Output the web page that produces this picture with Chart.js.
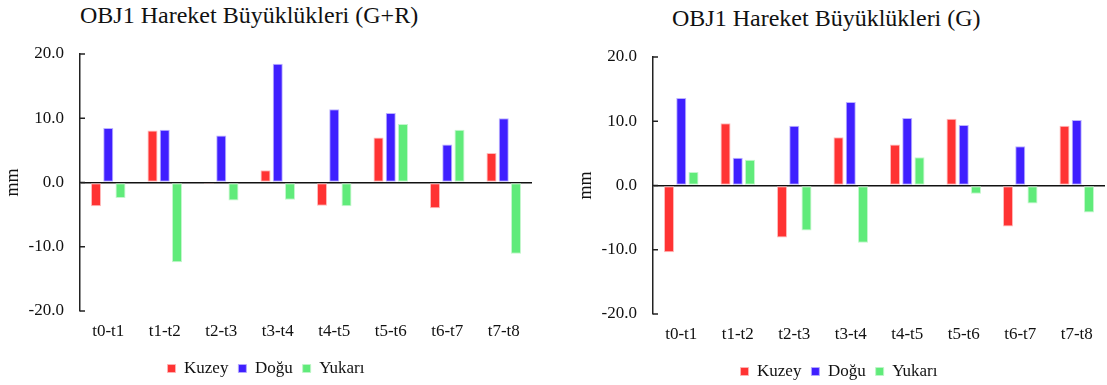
<!DOCTYPE html>
<html>
<head>
<meta charset="utf-8">
<script src="https://cdn.jsdelivr.net/npm/chart.js@4.4.1/dist/chart.umd.min.js"></script>
<style>
  html, body { margin: 0; padding: 0; background: #fff; }
  body { width: 1107px; height: 385px; position: relative; overflow: hidden; }
  .wrap { position: absolute; width: 534px; height: 385px; }
  .title { position: absolute; font-family: "Liberation Serif", serif; font-size: 24px; color: #111; white-space: nowrap; line-height: 1; }
</style>
</head>
<body>
<div class="title" id="t1" style="left:80px; top:3px;">OBJ1 Hareket Büyüklükleri (G+R)</div>
<div class="title" id="t2" style="left:672px; top:6px;">OBJ1 Hareket Büyüklükleri (G)</div>
<div class="wrap" style="left:0px; top:0px;"><canvas id="c1"></canvas></div>
<div class="wrap" style="left:573px; top:3px;"><canvas id="c2"></canvas></div>
<script>
// ---- data ----
const categories = ["t0-t1", "t1-t2", "t2-t3", "t3-t4", "t4-t5", "t5-t6", "t6-t7", "t7-t8"];
const seriesNames = ["Kuzey", "Doğu", "Yukarı"];
const yTicks = [-20, -10, 0, 10, 20];

// Chart 1: G+R
const grKuzey  = [-3.7, 8.1, -0.2, 1.9, -3.6, 7.0, -4.0, 4.6];
const grDogu   = [8.5, 8.2, 7.3, 18.5, 11.4, 10.8, 5.9, 10.0];
const grYukari = [-2.4, -12.4, -2.8, -2.7, -3.7, 9.1, 8.2, -11.1];

// Chart 2: G
const gKuzey  = [-10.4, 9.7, -8.1, 7.5, 6.4, 10.4, -6.4, 9.3];
const gDogu   = [13.6, 4.3, 9.3, 13.0, 10.5, 9.4, 6.1, 10.2];
const gYukari = [2.1, 4.0, -7.0, -8.9, 4.4, -1.3, -2.8, -4.2];

const FONT = "'Liberation Serif', 'Times New Roman', serif";
const fillColors = ["#FF3333", "#3F1FFF", "#60EB7A"];
const edgeColors = ["rgba(255,180,180,0.9)", "rgba(180,170,255,0.9)", "rgba(190,245,200,0.9)"];

// inward tick marks on the y axis, computed from the library's scale
const inwardTicks = {
  id: 'inwardTicks',
  afterDatasetsDraw(chart) {
    const y = chart.scales.y;
    const ctx = chart.ctx;
    const left = chart.chartArea.left;
    ctx.save();
    ctx.strokeStyle = '#222';
    ctx.lineWidth = 1.5;
    yTicks.forEach(v => {
      const py = y.getPixelForValue(v);
      ctx.beginPath();
      ctx.moveTo(left, py);
      ctx.lineTo(left + 5, py);
      ctx.stroke();
    });
    ctx.restore();
  }
};

function makeChart(id, k, d, yk) {
  const series = [k, d, yk];
  return new Chart(document.getElementById(id), {
    type: 'bar',
    data: {
      labels: categories,
      datasets: series.map((vals, i) => ({
        label: seriesNames[i],
        data: vals,
        backgroundColor: fillColors[i],
        borderColor: edgeColors[i],
        borderWidth: 1,
        borderSkipped: false,
        categoryPercentage: 0.65,
        barPercentage: 0.82
      }))
    },
    options: {
      responsive: true,
      maintainAspectRatio: false,
      animation: false,
      layout: { padding: { top: 54, right: 2, left: 0, bottom: -2 } },
      plugins: {
        legend: {
          position: 'bottom',
          labels: {
            font: { family: FONT, size: 17 },
            color: '#111',
            boxWidth: 8,
            boxHeight: 8,
            padding: 10
          }
        },
        tooltip: { enabled: false },
        title: { display: false }
      },
      scales: {
        x: {
          grid: { display: false, drawTicks: false },
          border: { display: false },
          afterFit(scale) { scale.height = 39; },
          ticks: {
            font: { family: FONT, size: 17 },
            color: '#111',
            padding: 10,
            maxRotation: 0
          }
        },
        y: {
          min: -20,
          max: 20,
          afterBuildTicks(scale) { scale.ticks = yTicks.map(v => ({ value: v })); },
          afterFit(scale) { scale.width = 80; },
          grid: {
            drawTicks: false,
            color: ctx => (ctx.tick && ctx.tick.value === 0) ? '#111' : 'rgba(0,0,0,0)',
            lineWidth: 1.5
          },
          border: { display: true, color: '#222', width: 1.5 },
          ticks: {
            font: { family: FONT, size: 17 },
            color: '#111',
            padding: 16,
            callback: v => Number(v).toFixed(1)
          },
          title: {
            display: true,
            text: 'mm',
            font: { family: FONT, size: 18 },
            color: '#111',
            padding: { top: 2, bottom: 0 }
          }
        }
      }
    },
    plugins: [inwardTicks]
  });
}

makeChart('c1', grKuzey, grDogu, grYukari);
makeChart('c2', gKuzey, gDogu, gYukari);
</script>
</body>
</html>
